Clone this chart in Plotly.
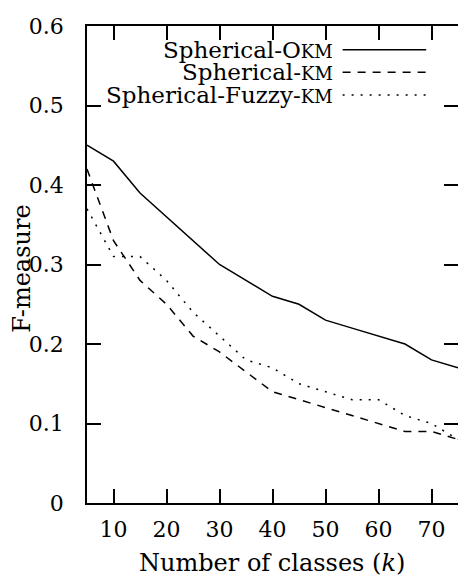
import plotly.graph_objects as go

k = [5, 10, 15, 20, 25, 30, 35, 40, 45, 50, 55, 60, 65, 70, 75]
okm = [0.45, 0.43, 0.39, 0.36, 0.33, 0.30, 0.28, 0.26, 0.25, 0.23, 0.22, 0.21, 0.20, 0.18, 0.17]
km = [0.42, 0.33, 0.28, 0.25, 0.21, 0.19, 0.165, 0.14, 0.13, 0.12, 0.11, 0.10, 0.09, 0.09, 0.08]
fuzzy = [0.37, 0.31, 0.31, 0.28, 0.24, 0.21, 0.18, 0.17, 0.15, 0.14, 0.13, 0.13, 0.11, 0.10, 0.08]

names = ["Spherical-O<span style='font-size:18px'>KM</span>",
         "Spherical-<span style='font-size:18px'>KM</span>",
         "Spherical-Fuzzy-<span style='font-size:18px'>KM</span>"]
dashes = ["solid", "8px,7px", "2px,7px"]
series = [okm, km, fuzzy]

FONT = "DejaVu Serif"
FS = 24
fig = go.Figure()
for s, d in zip(series, dashes):
    fig.add_trace(go.Scatter(x=k, y=s, mode="lines", line=dict(color="black", width=1.5, dash=d),
                             showlegend=False))

OFF = 8  # default page body margin
W, H = 466 - OFF, 578 - OFF
L, R, T, B = 87 - OFF, 6, 19 - OFF, 75
pw, ph = W - L - R, H - T - B

def px(xp):
    return (xp - OFF - L) / pw

def py(yp):
    return 1 - (yp - OFF - T) / ph

annotations = []
shapes = []
rows_y = [43, 66, 89]
for name, d, yy in zip(names, dashes, rows_y):
    annotations.append(dict(text=name, x=px(336), y=py(yy), xref="paper", yref="paper",
                            xanchor="right", yanchor="middle", showarrow=False,
                            font=dict(family=FONT, size=23, color="black")))
    shapes.append(dict(type="line", xref="paper", yref="paper", x0=px(344), x1=px(428),
                       y0=py(yy), y1=py(yy), line=dict(color="black", width=1.5, dash=d)))

annotations.append(dict(text="F-measure", x=px(22), y=py(265), xref="paper", yref="paper",
                        textangle=-90, showarrow=False, xanchor="center", yanchor="middle",
                        font=dict(family=FONT, size=FS, color="black")))
annotations.append(dict(text="Number of classes (<i>k</i>)", x=px(273), y=py(564),
                        xref="paper", yref="paper", showarrow=False, xanchor="center", yanchor="middle",
                        font=dict(family=FONT, size=FS, color="black")))

axis_common = dict(showgrid=False, zeroline=False, showline=True, linecolor="black", linewidth=1.5,
                   mirror="allticks", ticks="inside", ticklen=14, tickwidth=1.5, tickcolor="black",
                   ticklabeloverflow="allow",
                   tickfont=dict(family=FONT, size=22, color="black"))
fig.update_layout(
    width=W, height=H, margin=dict(l=L, r=R, t=T, b=B),
    paper_bgcolor="white", plot_bgcolor="white",
    xaxis=dict(range=[5, 75], tickvals=[10, 20, 30, 40, 50, 60, 70], ticklabelstandoff=6, **axis_common),
    yaxis=dict(range=[0, 0.6], tickvals=[0, 0.1, 0.2, 0.3, 0.4, 0.5, 0.6],
               ticktext=["0", "0.1", "0.2", "0.3", "0.4", "0.5", "0.6"], ticklabelstandoff=17, **axis_common),
    annotations=annotations, shapes=shapes, showlegend=False,
)
fig.write_html("out.html")
